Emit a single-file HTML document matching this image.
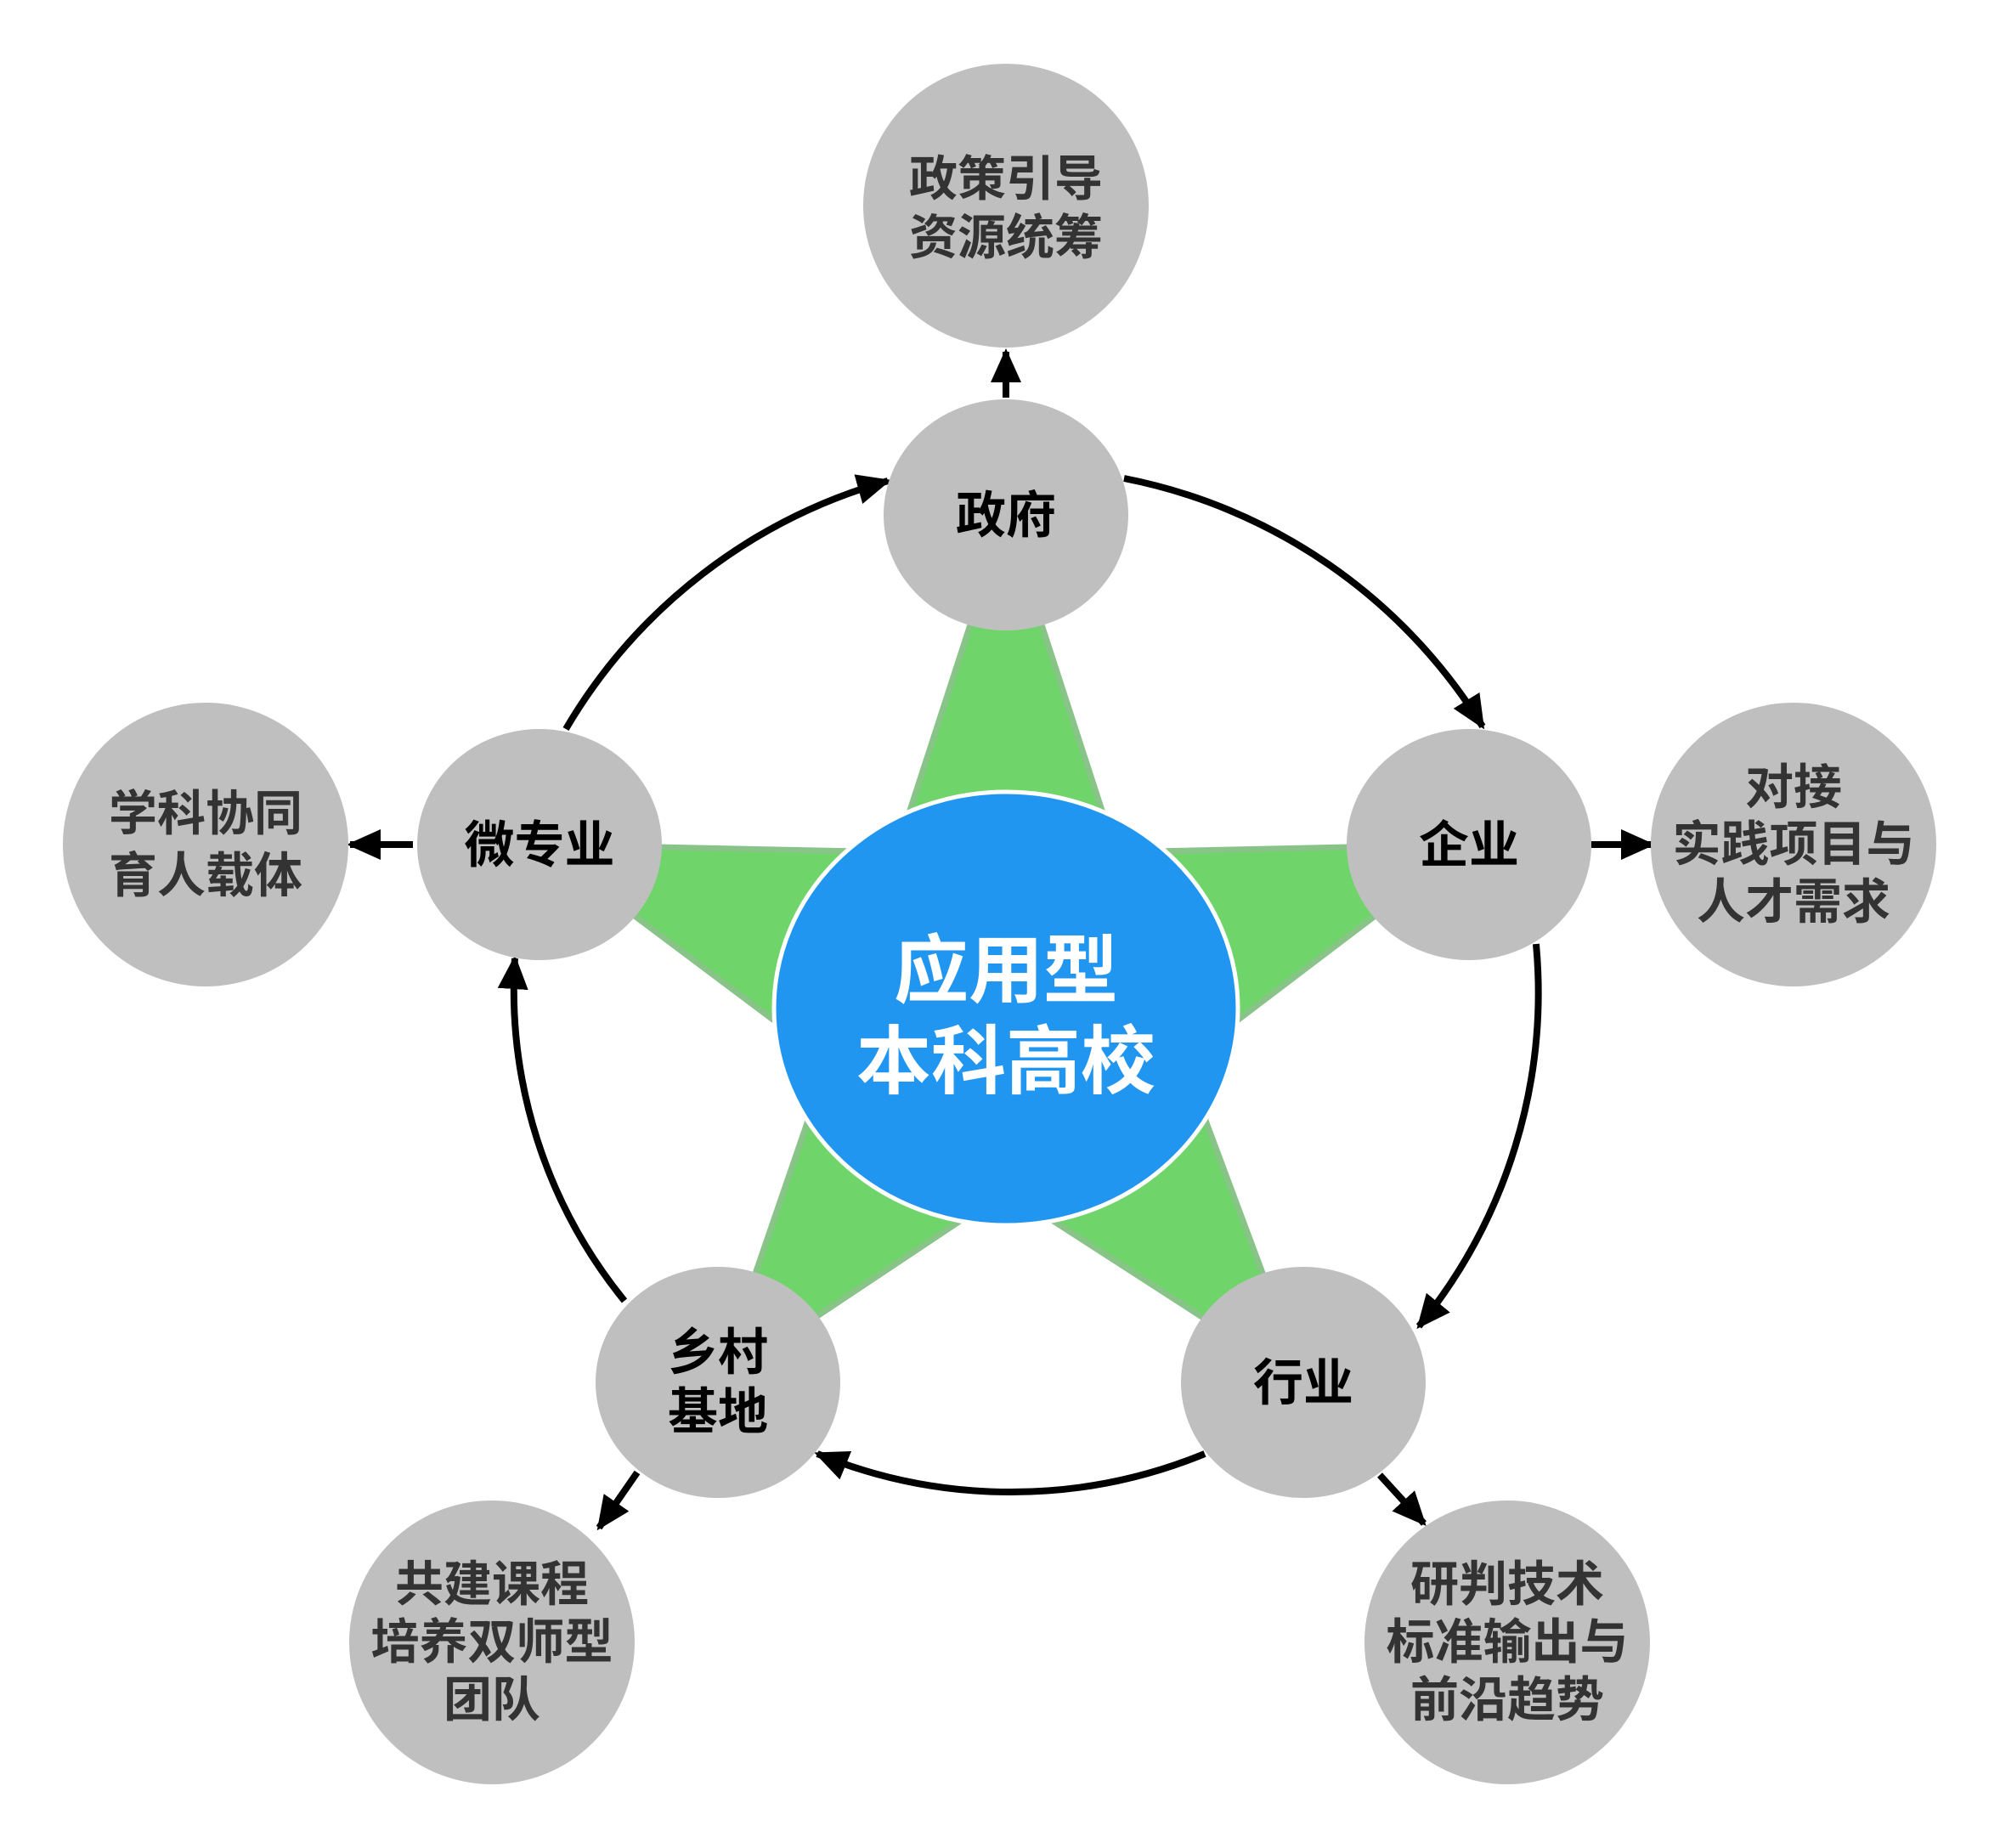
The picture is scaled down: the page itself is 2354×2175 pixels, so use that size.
<!DOCTYPE html>
<html><head><meta charset="utf-8"><style>
html,body{margin:0;padding:0;background:#fff;}
svg{display:block;}
.n{font-family:"Liberation Sans","Noto Sans CJK SC",sans-serif;font-weight:bold;font-size:59px;fill:#000;text-anchor:middle;}
.o{font-family:"Liberation Sans","Noto Sans CJK SC",sans-serif;font-weight:bold;font-size:57px;fill:#333;text-anchor:middle;}
.c{font-family:"Liberation Sans","Noto Sans CJK SC",sans-serif;font-weight:bold;font-size:88px;fill:#fff;text-anchor:middle;}
</style></head><body>
<svg width="2354" height="2175" viewBox="0 0 2354 2175" xmlns="http://www.w3.org/2000/svg">
<defs>
<marker id="a" markerUnits="userSpaceOnUse" markerWidth="50" markerHeight="50" refX="36" refY="18" orient="auto">
<path d="M0,0 L40,18 L0,36 Z" fill="#000"/>
</marker>
</defs>
<polygon points="1184,606 1313,1003 1729,994 1393,1249 1534,1627 1184,1401 845,1627 975,1249 635,994 1055,1003" fill="#6fd46a" stroke="#88c488" stroke-width="7" stroke-linejoin="miter"/>
<g fill="none" stroke="#000" stroke-width="8">
<path d="M1323,563 A640,640 0 0 1 1745,855" marker-end="url(#a)"/>
<path d="M1808,1111 A620,620 0 0 1 1670,1561" marker-end="url(#a)"/>
<path d="M1418,1711 A600,600 0 0 1 962,1711" marker-end="url(#a)"/>
<path d="M735,1531 A580,580 0 0 1 606,1128" marker-end="url(#a)"/>
<path d="M666,858 A640,640 0 0 1 1045,566" marker-end="url(#a)"/>
<path d="M1184,468 L1184,414" marker-end="url(#a)"/>
<path d="M1873,994 L1944,994" marker-end="url(#a)"/>
<path d="M486,994 L412,994" marker-end="url(#a)"/>
<path d="M750,1733 L705,1798" marker-end="url(#a)"/>
<path d="M1624,1736 L1676,1793" marker-end="url(#a)"/>
</g>
<ellipse cx="1184" cy="1187" rx="273" ry="255" fill="#2196f0" stroke="#fff" stroke-width="5"/>
<text class="c" x="1184" y="1173">应用型</text>
<text class="c" x="1184" y="1280">本科高校</text>
<g fill="#bfbfbf">
<ellipse cx="1184" cy="606" rx="144" ry="136"/>
<ellipse cx="1729" cy="994" rx="144" ry="136"/>
<ellipse cx="635" cy="994" rx="144" ry="136"/>
<ellipse cx="845" cy="1627" rx="144" ry="136"/>
<ellipse cx="1534" cy="1627" rx="144" ry="136"/>
<ellipse cx="1184" cy="242" rx="168" ry="167"/>
<ellipse cx="2111" cy="994" rx="168" ry="167"/>
<ellipse cx="242" cy="994" rx="168" ry="167"/>
<ellipse cx="579" cy="1933" rx="168" ry="167"/>
<ellipse cx="1774" cy="1933" rx="168" ry="167"/>
</g>
<text class="n" x="1184" y="627">政府</text>
<text class="n" x="1729" y="1015">企业</text>
<text class="n" x="635" y="1015">微专业</text>
<text class="n" x="845" y="1612">乡村</text>
<text class="n" x="845" y="1682">基地</text>
<text class="n" x="1534" y="1648">行业</text>
<text class="o" x="1184" y="230">政策引导</text>
<text class="o" x="1184" y="299">资源统筹</text>
<text class="o" x="2111" y="946">对接</text>
<text class="o" x="2111" y="1013">实践项目与</text>
<text class="o" x="2111" y="1081">人才需求</text>
<text class="o" x="242" y="977">学科协同</text>
<text class="o" x="242" y="1050">育人载体</text>
<text class="o" x="579" y="1884">共建课程</text>
<text class="o" x="579" y="1952">培养双师型</text>
<text class="o" x="579" y="2020">团队</text>
<text class="o" x="1774" y="1884">研判技术</text>
<text class="o" x="1774" y="1952">标准输出与</text>
<text class="o" x="1774" y="2020">前沿趋势</text>
</svg>
</body></html>
